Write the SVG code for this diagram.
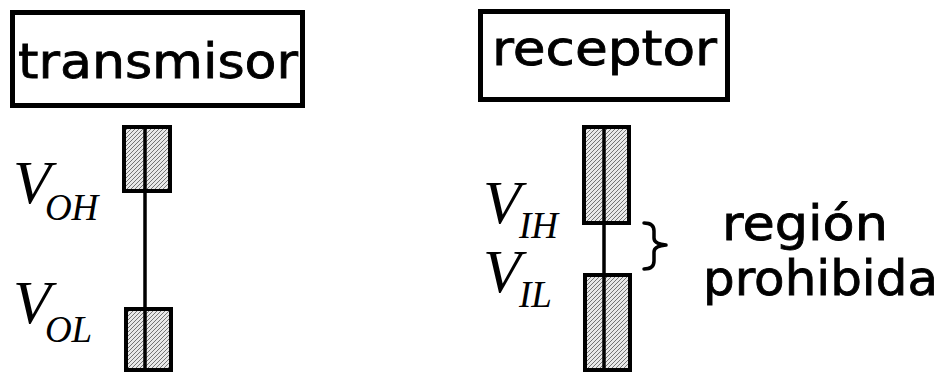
<svg xmlns="http://www.w3.org/2000/svg" width="940" height="374" viewBox="0 0 940 374">
<style>
.box{fill:#fff;stroke:#000;stroke-width:5}
.lbl{font-family:"DejaVu Sans",sans-serif;font-size:48px;fill:#000;stroke:#000;stroke-width:0.8}
.bar{fill:url(#hatch);stroke:#000;stroke-width:4}
.axis{stroke:#000;stroke-width:3.5}
.v{font-family:"Liberation Serif",serif;font-style:italic;fill:#000;font-size:62px}
.vs{font-size:37px}
.brace{fill:none;stroke:#000;stroke-width:3.5;stroke-linecap:round;stroke-linejoin:round}
</style>
<defs>
<pattern id="hatch" patternUnits="userSpaceOnUse" width="4" height="4">
<rect width="4" height="4" fill="#e8e8e8"/>
<path d="M-1,1 L1,-1 M0,4 L4,0 M3,5 L5,3" stroke="#666" stroke-width="0.9"/>
</pattern>
</defs>
<rect width="940" height="374" fill="#fff"/>
<g id="transmisor">
<rect class="box" x="12.5" y="12.5" width="290" height="93"/>
<text class="lbl" x="18" y="78" textLength="280" lengthAdjust="spacingAndGlyphs">transmisor</text>
</g>
<g id="receptor">
<rect class="box" x="480.5" y="11.5" width="247" height="88"/>
<text class="lbl" x="492" y="65" textLength="225" lengthAdjust="spacingAndGlyphs">receptor</text>
</g>
<g id="tx-bar">
<rect class="bar" x="124" y="127" width="46" height="64"/>
<rect class="bar" x="126" y="309" width="45" height="61"/>
<line class="axis" x1="145" y1="125" x2="145" y2="372"/>
</g>
<g id="rx-bar">
<rect class="bar" x="584" y="127" width="45" height="96"/>
<rect class="bar" x="585" y="275" width="45" height="95"/>
<line class="axis" x1="604" y1="125" x2="604" y2="372"/>
</g>
<g id="voh">
<text class="v" x="13" y="203">V<tspan class="vs" dx="-6" dy="17">OH</tspan></text>
</g>
<g id="vol">
<text class="v" x="13" y="323">V<tspan class="vs" dx="-6" dy="19">OL</tspan></text>
</g>
<g id="vih">
<text class="v" x="483" y="223">V<tspan class="vs" dx="-2" dy="15">IH</tspan></text>
</g>
<g id="vil">
<text class="v" x="483" y="292">V<tspan class="vs" dx="-2" dy="15">IL</tspan></text>
</g>
<g id="prohibida">
<path class="brace" d="M644,223 Q654,223 654,231 L654,238 Q654,244 666,245 Q654,246 654,252 L654,261 Q654,269 644,269"/>
<text class="lbl" x="722" y="240" textLength="166" lengthAdjust="spacingAndGlyphs">región</text>
<text class="lbl" x="703" y="295" textLength="235" lengthAdjust="spacingAndGlyphs">prohibida</text>
</g>
</svg>
